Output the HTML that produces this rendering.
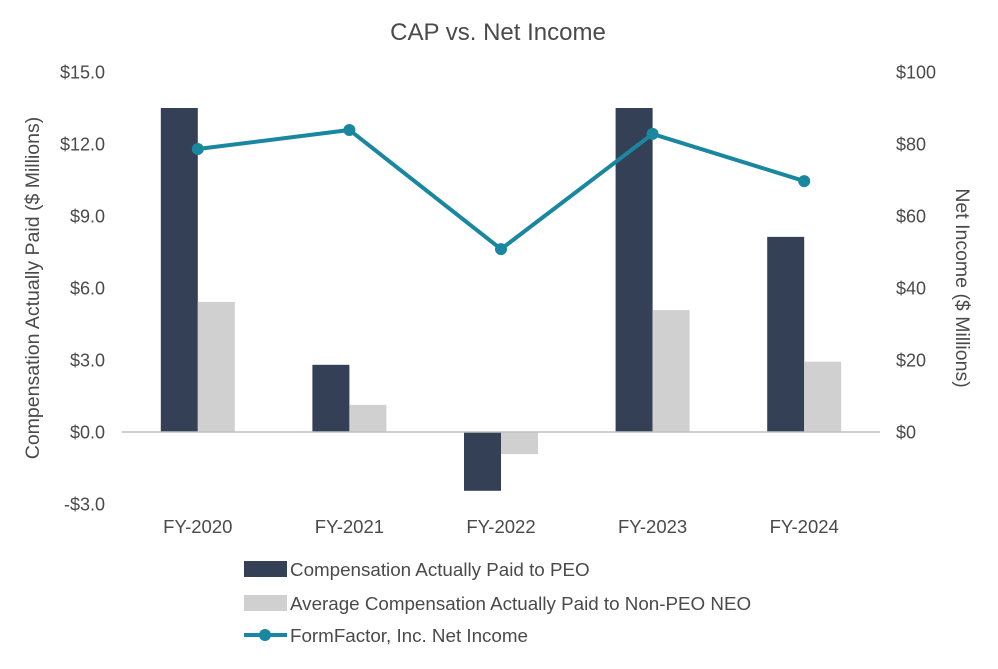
<!DOCTYPE html>
<html><head><meta charset="utf-8"><style>
body{margin:0;background:#fff}
svg text{font-family:"Liberation Sans",Arial,sans-serif;fill:#4a4a4a}
</style></head><body>
<svg id="c" width="998" height="664" viewBox="0 0 998 664">
<text x="498" y="40" text-anchor="middle" font-size="24">CAP vs. Net Income</text>
<text transform="translate(39,288) rotate(-90)" text-anchor="middle" font-size="19.5">Compensation Actually Paid ($ Millions)</text>
<text transform="translate(956,288) rotate(90)" text-anchor="middle" font-size="19.5">Net Income ($ Millions)</text>
<g id="bars"></g><g id="ticks"></g><g id="line"></g>
<g>
<rect x="244" y="561" width="43" height="16" fill="#334055"/>
<text x="290" y="576" font-size="18.8">Compensation Actually Paid to PEO</text>
<rect x="244" y="595" width="43" height="16" fill="#d0d0d0"/>
<text x="290" y="610" font-size="18.8">Average Compensation Actually Paid to Non-PEO NEO</text>
<line x1="244" y1="635" x2="287" y2="635" stroke="#1a87a0" stroke-width="4"/>
<circle cx="265" cy="635" r="6" fill="#1a87a0"/>
<text x="290" y="642" font-size="18.8">FormFactor, Inc. Net Income</text>
</g>
</svg>
<script>
const categories=["FY-2020","FY-2021","FY-2022","FY-2023","FY-2024"];
const peo=[13.5,2.8,-2.45,13.5,8.13];
const nonPeo=[5.42,1.13,-0.92,5.08,2.93];
const netIncome=[78.6,83.9,50.8,82.8,69.7];
const leftTicks=[15,12,9,6,3,0,-3];
const rightTicks=[100,80,60,40,20,0];
const NS="http://www.w3.org/2000/svg";
const x0=122,x1=880,yZero=432;
const yL=v=>yZero-v*24;
const yR=v=>yZero-v*3.6;
const band=(x1-x0)/categories.length;
const xc=i=>x0+band*(i+0.5);
function mk(t,a,p){const e=document.createElementNS(NS,t);for(const k in a)e.setAttribute(k,a[k]);p.appendChild(e);return e;}
const bars=document.getElementById('bars'),ticks=document.getElementById('ticks'),line=document.getElementById('line');
const bw=37;
categories.forEach((c,i)=>{
  let v=peo[i];
  let r=mk('rect',{x:xc(i)-bw,y:Math.min(yL(v),yZero),width:bw,height:Math.abs(yL(v)-yZero),fill:'#334055'},bars);
  
  
  v=nonPeo[i];
  r=mk('rect',{x:xc(i),y:Math.min(yL(v),yZero),width:bw,height:Math.abs(yL(v)-yZero),fill:'#d0d0d0'},bars);
  
  
  const t=mk('text',{x:xc(i),y:533,'text-anchor':'middle','font-size':18.5},ticks);t.textContent=c;
  
  
});
const ax=mk('line',{x1:x0,x2:x1,y1:yZero,y2:yZero,stroke:'#bfbfbf','stroke-width':1.5},ticks);


leftTicks.forEach(v=>{
  const t=mk('text',{x:105,y:yL(v)+6.5,'text-anchor':'end','font-size':18},ticks);
  t.textContent=(v<0?'-$':'$')+Math.abs(v).toFixed(1);
  
  
});
rightTicks.forEach(v=>{
  const t=mk('text',{x:896,y:yR(v)+6.5,'text-anchor':'start','font-size':18},ticks);
  t.textContent='$'+v;
  
  
});
const pl=mk('polyline',{points:netIncome.map((v,i)=>xc(i)+','+yR(v)).join(' '),fill:'none',stroke:'#1a87a0','stroke-width':4},line);


netIncome.forEach((v,i)=>{
  const p=mk('circle',{cx:xc(i),cy:yR(v),r:6,fill:'#1a87a0'},line);
  
  
});
</script>
</body></html>
